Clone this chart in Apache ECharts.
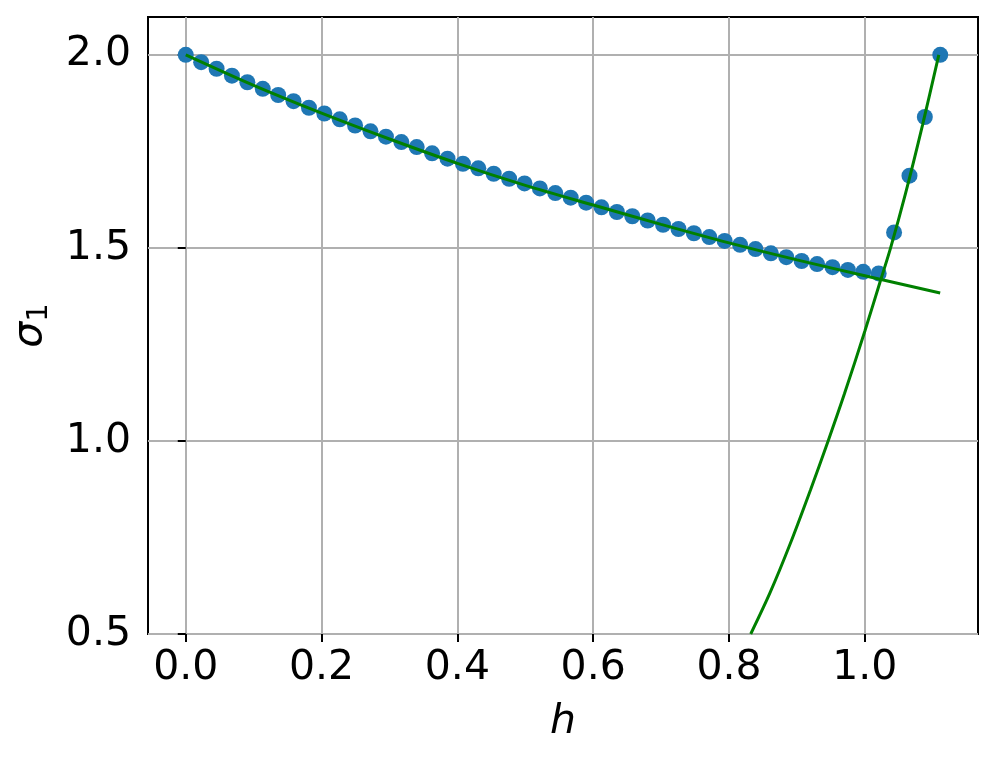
<!DOCTYPE html>
<html>
<head>
<meta charset="utf-8">
<script src="https://cdn.jsdelivr.net/npm/echarts@6/dist/echarts.min.js"></script>
<style>
  html, body { margin: 0; padding: 0; background: #fff; }
  #chart { width: 996px; height: 758px; }
</style>
</head>
<body>
<div id="chart"></div>
<script>
// scatter points (h, sigma_1)
const hPts = [
  0, 0.0227, 0.0454, 0.0680, 0.0907, 0.1134, 0.1361, 0.1587, 0.1814, 0.2041,
  0.2268, 0.2494, 0.2721, 0.2948, 0.3175, 0.3401, 0.3628, 0.3855, 0.4082, 0.4308,
  0.4535, 0.4762, 0.4989, 0.5215, 0.5442, 0.5669, 0.5896, 0.6122, 0.6349, 0.6576,
  0.6803, 0.7029, 0.7256, 0.7483, 0.7710, 0.7936, 0.8163, 0.8390, 0.8617, 0.8844,
  0.9070, 0.9297, 0.9524, 0.9751, 0.9977, 1.0204, 1.0431, 1.0658, 1.0884, 1.1111
]
const sigmaPts = [
  2.000, 1.981, 1.964, 1.946, 1.929, 1.912, 1.896, 1.880, 1.863, 1.848,
  1.833, 1.817, 1.802, 1.788, 1.774, 1.761, 1.745, 1.731, 1.718, 1.706,
  1.692, 1.679, 1.667, 1.654, 1.642, 1.630, 1.617, 1.605, 1.593, 1.582,
  1.571, 1.560, 1.549, 1.538, 1.528, 1.518, 1.508, 1.497, 1.486, 1.476,
  1.466, 1.458, 1.450, 1.443, 1.438, 1.434, 1.540, 1.687, 1.839, 2.000
]

// green curve, lower branch
const hLow = [0, 0.1, 0.2, 0.3, 0.4, 0.5, 0.6, 0.7, 0.8, 0.9, 1.0, 1.111]
const sigmaLow = [2.0, 1.921, 1.849, 1.782, 1.719, 1.662, 1.611, 1.561, 1.513, 1.469, 1.428, 1.383]

// green curve, steep branch
const hHigh = [0.832, 0.86, 0.89, 0.92, 0.946, 0.97, 1.0, 1.022, 1.038, 1.06, 1.085, 1.109]
const sigmaHigh = [0.5, 0.605, 0.733, 0.873, 1.0, 1.122, 1.284, 1.409, 1.5, 1.641, 1.818, 2.0]

const xTicks = [0, 0.2, 0.4, 0.6, 0.8, 1.0]
const yTicks = [0.5, 1.0, 1.5, 2.0]

const zip = (a, b) => a.map((v, i) => [v, b[i]])
const font = 'DejaVu Sans'

const chart = echarts.init(document.getElementById('chart'))
const option = {
  animation: false,
  backgroundColor: '#fff',
  grid: {
    left: 148,
    right: 18,
    top: 17,
    bottom: 124,
    show: true,
    borderColor: '#000',
    borderWidth: 2,
    backgroundColor: 'transparent'
  },
  xAxis: {
    type: 'value',
    min: -0.0556,
    max: 1.1667,
    name: 'h',
    nameLocation: 'middle',
    nameGap: 68,
    nameTextStyle: {
      fontFamily: font,
      fontStyle: 'italic',
      fontSize: 41,
      color: '#000'
    },
    axisLine: { show: false },
    axisTick: {
      show: true,
      length: 8,
      lineStyle: { color: '#000', width: 2 },
      customValues: xTicks
    },
    axisLabel: {
      fontFamily: font,
      fontSize: 41,
      color: '#000',
      margin: 14,
      customValues: xTicks,
      formatter: v => v.toFixed(1)
    },
    splitLine: {
      show: true,
      lineStyle: { color: '#b0b0b0', width: 2 }
    }
  },
  yAxis: {
    type: 'value',
    min: 0.5,
    max: 2.098,
    name: '{s|σ}{sub|1}',
    nameLocation: 'middle',
    nameRotate: 90,
    nameGap: 94,
    nameTextStyle: {
      color: '#000',
      rich: {
        s: { fontFamily: font, fontStyle: 'italic', fontSize: 41, color: '#000' },
        sub: { fontFamily: font, fontSize: 29, color: '#000', padding: [18, 0, 0, 0] }
      }
    },
    axisLine: { show: false },
    axisTick: {
      show: true,
      length: 8,
      lineStyle: { color: '#000', width: 2 },
      customValues: yTicks
    },
    axisLabel: {
      fontFamily: font,
      fontSize: 41,
      color: '#000',
      margin: 17,
      customValues: yTicks,
      formatter: v => v.toFixed(1)
    },
    splitLine: {
      show: true,
      lineStyle: { color: '#b0b0b0', width: 2 }
    }
  },
  series: [
    {
      type: 'scatter',
      data: zip(hPts, sigmaPts),
      symbolSize: 16,
      itemStyle: { color: '#1f77b4', opacity: 1 }
    },
    {
      type: 'line',
      data: zip(hLow, sigmaLow),
      smooth: 0.3,
      showSymbol: false,
      lineStyle: { color: '#008000', width: 3 }
    },
    {
      type: 'line',
      data: zip(hHigh, sigmaHigh),
      smooth: 0.3,
      showSymbol: false,
      lineStyle: { color: '#008000', width: 3 }
    }
  ]
}
chart.setOption(option)
</script>
</body>
</html>
